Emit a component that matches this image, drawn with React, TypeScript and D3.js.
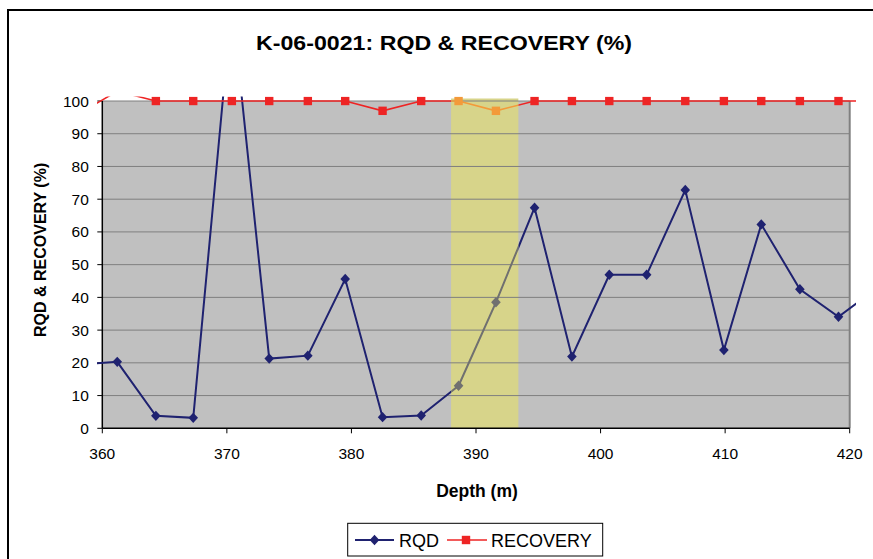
import React from "react";
import * as d3 from "d3";

const depths = [358.1, 361.2, 364.3, 367.3, 370.4, 373.4, 376.5, 379.5, 382.5, 385.6, 388.6, 391.6, 394.7, 397.7, 400.7, 403.7, 406.8, 409.9, 412.9, 416.0, 419.1, 422.1];
const rqd = [19.5, 20.3, 3.8, 3.2, 130, 21.3, 22.2, 45.6, 3.4, 3.9, 13.0, 38.5, 67.4, 21.9, 46.9, 46.9, 72.8, 23.9, 62.3, 42.5, 34.1, 42.6];
const recovery = [96, 103, 100, 100, 100, 100, 100, 100, 97, 100, 100, 97, 100, 100, 100, 100, 100, 100, 100, 100, 100, 100];
const xTicks = [360, 370, 380, 390, 400, 410, 420];
const yTicks = [0, 10, 20, 30, 40, 50, 60, 70, 80, 90, 100];
const highlight = [388.0, 393.4];

const W = 873, H = 559;
const PL = 102.3, PR = 849.7, PT = 101, PB = 428.3;

export default function App() {
  const x = d3.scaleLinear().domain([360, 420]).range([PL, PR]);
  const y = d3.scaleLinear().domain([0, 100]).range([PB, PT]);
  const pts = (vals: number[]) => depths.map((d, i) => [d, vals[i]] as [number, number]);
  const line = d3.line<[number, number]>().x(d => x(d[0])).y(d => y(d[1]));
  const inDomain = (d: [number, number]) => d[0] >= 360 && d[0] <= 420 && d[1] >= 0 && d[1] <= 100;
  const rq = pts(rqd);
  const rc = pts(recovery);
  const hx0 = x(highlight[0]), hx1 = x(highlight[1]);
  const font = "'Liberation Sans', Arial, sans-serif";
  const diamond = "M0,-5.2L4.8,0L0,5.2L-4.8,0Z";
  const square = (cx: number, cy: number, fill: string, key: any) => (
    <rect key={key} x={cx - 4.2} y={cy - 4.2} width={8.4} height={8.4} fill={fill} />
  );

  const drawSeries = (rqColor: string, rcColor: string) => (
    <g>
      <path d={line(rq) || ""} fill="none" stroke={rqColor} strokeWidth={2} />
      <path d={line(rc) || ""} fill="none" stroke={rcColor} strokeWidth={1.6} />
      {rq.filter(inDomain).map((d, i) => (
        <path key={"d" + i} d={diamond} transform={`translate(${x(d[0])},${y(d[1])})`} fill={rqColor} />
      ))}
      {rc.filter(inDomain).map((d, i) => square(x(d[0]), y(d[1]), rcColor, "s" + i))}
    </g>
  );

  return (
    <svg width={W} height={H} style={{ position: "absolute", left: 0, top: 0, background: "#fff" }} fontFamily={font}>
      <defs>
        <clipPath id="outside">
          <rect x={97} y={96.5} width={hx0 - 97} height={340} />
          <rect x={hx1} y={96.5} width={856 - hx1} height={340} />
        </clipPath>
        <clipPath id="inside">
          <rect x={hx0} y={96.5} width={hx1 - hx0} height={340} />
        </clipPath>
      </defs>
      <rect x={8} y={10} width={900} height={600} fill="none" stroke="#000" strokeWidth={2} />
      <text x={444} y={50} textAnchor="middle" fontSize={21} fontWeight="bold" fill="#000" textLength={376} lengthAdjust="spacingAndGlyphs">K-06-0021: RQD &amp; RECOVERY (%)</text>

      <rect x={PL} y={PT} width={PR - PL} height={PB - PT} fill="#c0c0c0" />
      <rect x={hx0} y={PT - 2.5} width={hx1 - hx0} height={PB - PT + 2.5} fill="#d7d48a" />
      {yTicks.filter(t => t > 0).map(t => (
        <line key={t} x1={PL} x2={PR} y1={y(t)} y2={y(t)} stroke="#7f7f7f" strokeWidth={1} />
      ))}
      <line x1={PR} x2={PR} y1={PT} y2={PB} stroke="#808080" strokeWidth={2} />

      <line x1={PL} x2={PL} y1={PT} y2={PB} stroke="#000" strokeWidth={1.5} />
      <line x1={PL} x2={PR} y1={PB} y2={PB} stroke="#000" strokeWidth={1.5} />
      {yTicks.map(t => (
        <g key={t}>
          <line x1={PL - 5} x2={PL} y1={y(t)} y2={y(t)} stroke="#000" strokeWidth={1} />
          <text x={PL - 13.5} y={y(t) + 5.5} textAnchor="end" fontSize={15.5} fill="#000">{t}</text>
        </g>
      ))}
      {xTicks.map(t => (
        <g key={t}>
          <line x1={x(t)} x2={x(t)} y1={PB} y2={PB + 5} stroke="#000" strokeWidth={1} />
          <text x={x(t)} y={PB + 31} textAnchor="middle" fontSize={15.5} fill="#000">{t}</text>
        </g>
      ))}

      <g clipPath="url(#outside)">{drawSeries("#1f2270", "#ee2424")}</g>
      <g clipPath="url(#inside)">{drawSeries("#707070", "#f39a3a")}</g>

      <text transform={`translate(46,337) rotate(-90)`} textAnchor="start" fontSize={16} fontWeight="bold" fill="#000">RQD &amp; RECOVERY (%)</text>
      <text x={477} y={497} textAnchor="middle" fontSize={17.5} fontWeight="bold" fill="#000">Depth (m)</text>

      <rect x={347.7} y={523.3} width={255} height={32.7} fill="#fff" stroke="#000" strokeWidth={1} />
      <line x1={355} x2={394} y1={540} y2={540} stroke="#1f2270" strokeWidth={2} />
      <path d={diamond} transform="translate(374.5,540)" fill="#1f2270" />
      <text x={399} y={546.5} fontSize={18} fill="#000">RQD</text>
      <line x1={447} x2={487} y1={540} y2={540} stroke="#ee2424" strokeWidth={1.6} />
      {square(466, 540, "#ee2424", "leg")}
      <text x={491} y={546.5} fontSize={18} fill="#000">RECOVERY</text>
    </svg>
  );
}
